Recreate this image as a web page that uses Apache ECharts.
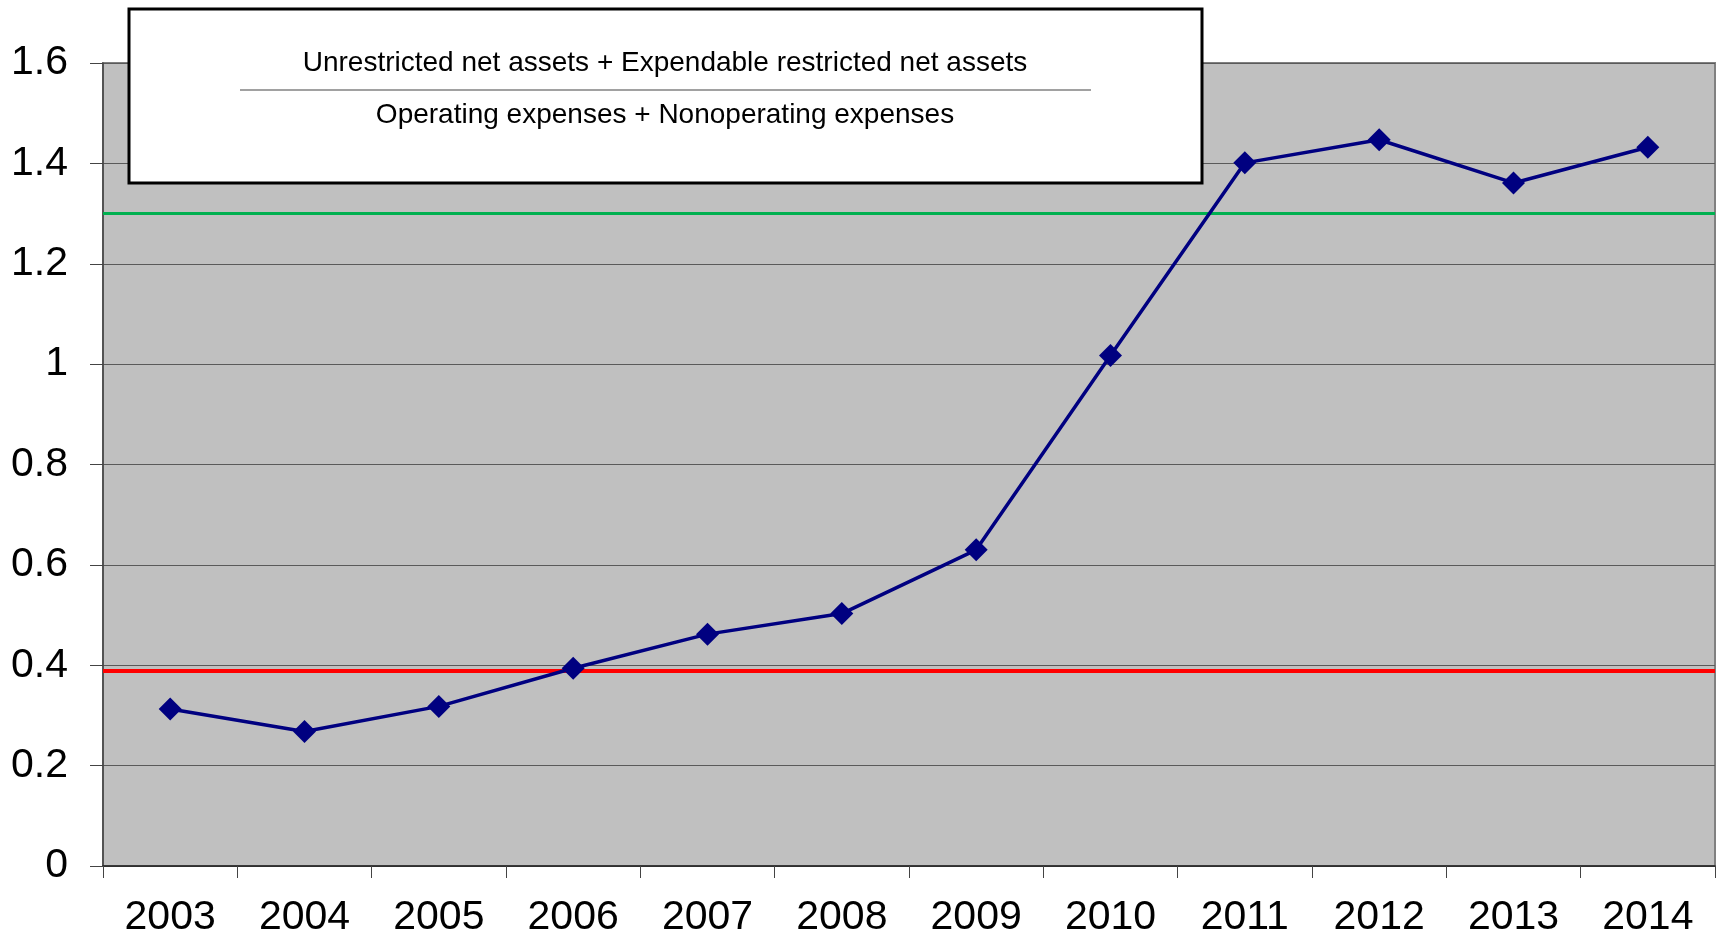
<!DOCTYPE html>
<html>
<head>
<meta charset="utf-8">
<script src="https://cdn.jsdelivr.net/npm/echarts@6/dist/echarts.min.js"></script>
<style>
html,body{margin:0;padding:0;background:#fff;}
#c{width:1716px;height:938px;}
</style>
</head>
<body>
<div id="c"></div>
<script>
const years = ['2003','2004','2005','2006','2007','2008','2009','2010','2011','2012','2013','2014'];
const ratio = [0.313,0.268,0.318,0.394,0.462,0.503,0.630,1.017,1.401,1.447,1.361,1.432];
const redLevel = 0.392;
const greenLevel = 1.30;
const formulaTop = 'Unrestricted net assets + Expendable restricted net assets';
const formulaBottom = 'Operating expenses + Nonoperating expenses';

const FONT = 'Liberation Sans, Arial, sans-serif';
const chart = echarts.init(document.getElementById('c'));
chart.setOption({
  animation: false,
  backgroundColor: '#ffffff',
  grid: {
    left: 103, right: 1, top: 63, bottom: 70,
    show: true, backgroundColor: '#C0C0C0', borderColor: '#808080', borderWidth: 2
  },
  xAxis: {
    type: 'category',
    data: years,
    boundaryGap: true,
    axisLine: { show: true, lineStyle: { color: '#222', width: 1.5 } },
    axisTick: { show: true, interval: 0, length: 12, lineStyle: { color: '#444', width: 1 } },
    axisLabel: { interval: 0, color: '#000', fontFamily: FONT, fontSize: 41, margin: 31 },
    splitLine: { show: false }
  },
  yAxis: {
    type: 'value',
    min: 0, max: 1.6, interval: 0.2,
    axisLine: { show: true, lineStyle: { color: '#444', width: 1.5 } },
    axisTick: { show: true, length: 13, lineStyle: { color: '#444', width: 1 } },
    axisLabel: { color: '#000', fontFamily: FONT, fontSize: 41, margin: 35 },
    splitLine: { show: true, lineStyle: { color: '#5a5a5a', width: 1 } }
  },
  series: [
    {
      type: 'line',
      data: ratio,
      symbol: 'diamond',
      symbolSize: 23,
      lineStyle: { color: '#000080', width: 3.5 },
      itemStyle: { color: '#000080' },
      z: 5,
      markLine: {
        silent: true,
        symbol: ['none', 'none'],
        label: { show: false },
        data: [
          { yAxis: redLevel, lineStyle: { color: '#FF0000', width: 4, type: 'solid' } },
          { yAxis: greenLevel, lineStyle: { color: '#00B050', width: 3, type: 'solid' } }
        ],
        z: 3
      }
    }
  ],
  graphic: [
    {
      type: 'rect',
      shape: { x: 129, y: 9, width: 1073, height: 174 },
      style: { fill: '#ffffff', stroke: '#000', lineWidth: 3 },
      z: 100
    },
    {
      type: 'text',
      x: 665, y: 63,
      style: {
        text: formulaTop, fontFamily: FONT, fontSize: 28, fill: '#000',
        align: 'center', verticalAlign: 'middle'
      },
      z: 101
    },
    {
      type: 'line',
      shape: { x1: 240, y1: 90, x2: 1091, y2: 90 },
      style: { stroke: '#444', lineWidth: 1.2 },
      z: 101
    },
    {
      type: 'text',
      x: 665, y: 115,
      style: {
        text: formulaBottom, fontFamily: FONT, fontSize: 28, fill: '#000',
        align: 'center', verticalAlign: 'middle'
      },
      z: 101
    }
  ]
});
</script>
</body>
</html>
